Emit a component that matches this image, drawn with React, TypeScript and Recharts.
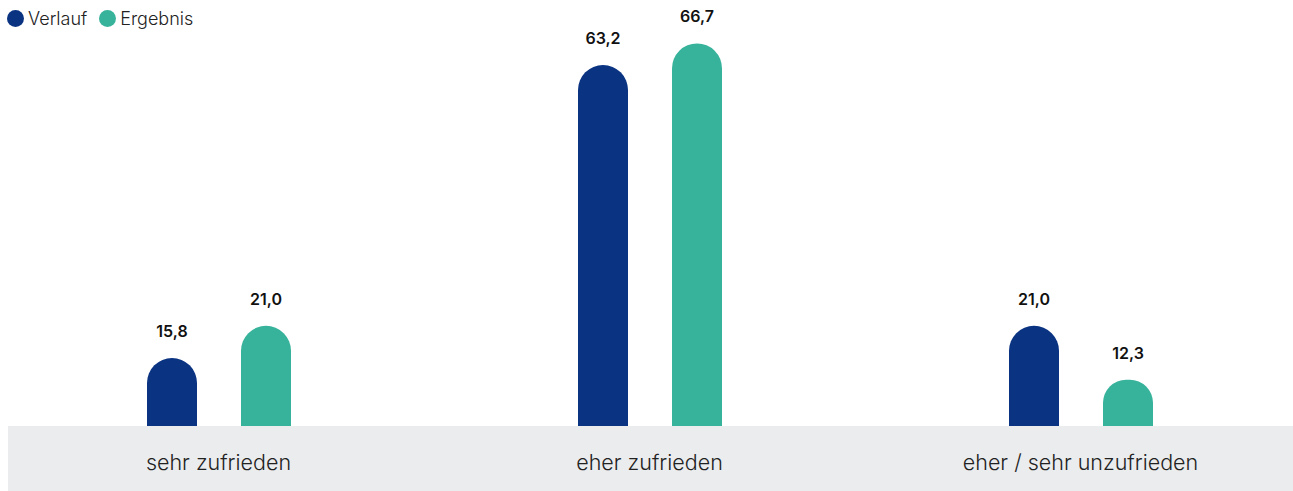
import { BarChart, Bar, XAxis, YAxis, LabelList } from 'recharts';

const categories = ['sehr zufrieden', 'eher zufrieden', 'eher / sehr unzufrieden'];
const verlauf = [15.8, 63.2, 21.0];
const ergebnis = [21.0, 66.7, 12.3];

const BLUE = '#0a3382';
const GREEN = '#38b39b';
const FONT = 'Inter, Roboto, sans-serif';

const rows = categories.map((name, i) => ({
  name,
  verlauf: verlauf[i],
  ergebnis: ergebnis[i],
}));

const fmt = (v: any) => Number(v).toFixed(1).replace('.', ',');

function CategoryTick(props: any) {
  const { x, y, payload } = props;
  return (
    <text x={x} y={y} dy={44} textAnchor="middle" fill="#222" fontSize={21.5} fontWeight={300} fontFamily={FONT}>
      {payload.value}
    </text>
  );
}

function LegendItem({ color, label }: { color: string; label: string }) {
  return (
    <div style={{ display: 'flex', alignItems: 'center', marginRight: 12 }}>
      <span style={{ width: 17, height: 17, borderRadius: '50%', background: color, display: 'inline-block', marginRight: 4 }} />
      <span style={{ fontSize: 18, fontWeight: 300, color: '#222', fontFamily: FONT }}>{label}</span>
    </div>
  );
}

export default function App() {
  return (
    <div style={{ position: 'relative', width: 1293, height: 491, overflow: 'hidden' }}>
      <style>{'body{margin:0}'}</style>
      {/* grey strip behind the category labels */}
      <div style={{ position: 'absolute', left: 8, top: 426, width: 1285, height: 65, background: '#ebecee' }} />
      <div style={{ position: 'absolute', left: 7, top: 8, display: 'flex', zIndex: 2 }}>
        <LegendItem color={BLUE} label="Verlauf" />
        <LegendItem color={GREEN} label="Ergebnis" />
      </div>
      <div style={{ position: 'absolute', left: 8, top: 0 }}>
        <BarChart
          width={1285}
          height={491}
          data={rows}
          margin={{ top: 23, right: -3, bottom: 0, left: -5 }}
          barSize={50}
          barGap={44}
        >
          <XAxis
            dataKey="name"
            axisLine={false}
            tickLine={false}
            tickSize={0}
            tickMargin={0}
            height={65}
            interval={0}
            tick={<CategoryTick />}
          />
          <YAxis hide type="number" domain={[4.8, 70]} allowDataOverflow />
          <Bar dataKey="verlauf" fill={BLUE} radius={[25, 25, 0, 0]} isAnimationActive={false}>
            <LabelList dataKey="verlauf" position="top" offset={21} formatter={fmt} fill="#111" fontSize={16} fontWeight={600} fontFamily={FONT} />
          </Bar>
          <Bar dataKey="ergebnis" fill={GREEN} radius={[25, 25, 0, 0]} isAnimationActive={false}>
            <LabelList dataKey="ergebnis" position="top" offset={21} formatter={fmt} fill="#111" fontSize={16} fontWeight={600} fontFamily={FONT} />
          </Bar>
        </BarChart>
      </div>
    </div>
  );
}
